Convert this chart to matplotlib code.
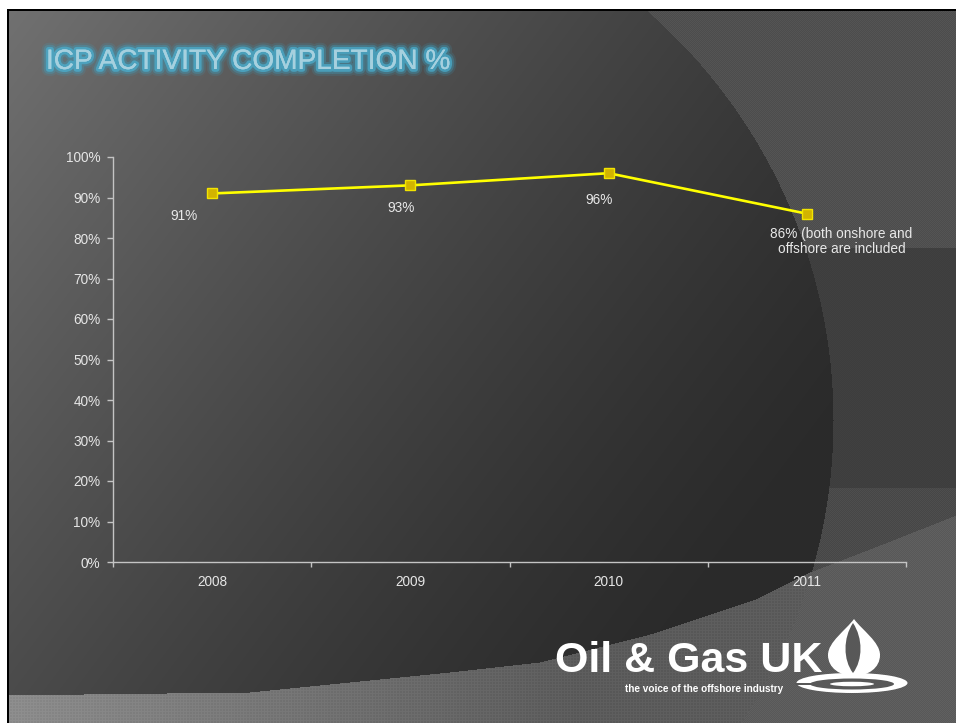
import numpy as np
import matplotlib
matplotlib.use('Agg')
import matplotlib.pyplot as plt
from matplotlib import patheffects as pe
from matplotlib.patches import Ellipse, PathPatch, Rectangle
from matplotlib.path import Path

# ---------------- data ----------------
years = ['2008', '2009', '2010', '2011']
completion = [0.91, 0.93, 0.96, 0.86]
point_labels = ['91%', '93%', '96%', '86% (both onshore and\noffshore are included']
ytick_values = [0.0, 0.1, 0.2, 0.3, 0.4, 0.5, 0.6, 0.7, 0.8, 0.9, 1.0]
ytick_labels = ['0%', '10%', '20%', '30%', '40%', '50%', '60%', '70%', '80%', '90%', '100%']
title_text = 'ICP ACTIVITY COMPLETION %'
logo_text = 'Oil & Gas UK'
tagline_text = 'the voice of the offshore industry'

W, H = 956, 723
fig = plt.figure(figsize=(W / 100, H / 100), dpi=100)

# ---------------- slide background ----------------
yy, xx = np.mgrid[0:H, 0:W].astype(float)
img = np.full((H, W), 255.0)
tex1 = np.where(((xx.astype(int) + yy.astype(int)) % 2) == 0, 4.0, -4.0)
tex2 = np.where((xx.astype(int) % 3 == 0) | (yy.astype(int) % 3 == 0), 4.0, -3.0)

inside = (xx - 290) ** 2 + (yy - 420) ** 2 <= 543 ** 2
band_y = np.interp(xx, [0, 250, 450, 540, 650, 753, 810, 880, 956],
                   [695, 692, 672, 662, 634, 600, 572, 545, 515])
below = yy >= band_y

t = np.clip((0.8 * xx + 0.6 * yy) / 940.0, 0, 1)
grad = 42 + 72 * (1 - t) ** 1.3

v = np.where(inside, grad, 0.0)
out = ~inside
v = np.where(out & (yy < 248), 80 + tex1, v)
v = np.where(out & (yy >= 248) & (yy < 488), 63 + 0.4 * tex1, v)
v = np.where(out & (yy >= 488), 74 + tex1, v)
v = np.where(out & below, 92 + tex1, v)
bandv = np.clip(140 - 60 * (xx / 700.0), 90, 140)
v = np.where(inside & below, bandv + tex2, v)

slide = (xx >= 7) & (yy >= 9)
img = np.where(slide, v, img)
border = slide & ((xx < 9) | (yy < 11))
img = np.where(border, 0.0, img)
rgb = np.repeat((np.clip(img, 0, 255) / 255.0)[:, :, None], 3, axis=2)

bg = fig.add_axes([0, 0, 1, 1], zorder=0)
bg.imshow(rgb, extent=(0, W, H, 0), interpolation='nearest', aspect='auto')
bg.set_xlim(0, W)
bg.set_ylim(H, 0)
bg.axis('off')

# ---------------- chart ----------------
ax = fig.add_axes([113 / W, 1 - 562 / H, 793 / W, 405 / H], zorder=2)
ax.patch.set_alpha(0)
x = np.arange(len(years))
ax.plot(x, completion, color='#ffff00', lw=1.9, marker='s', markersize=7.2,
        markerfacecolor='#d2b400', markeredgecolor='#f2e400', markeredgewidth=1.0,
        zorder=3, solid_joinstyle='miter')

offsets = [(-20, -16.5), (-6.5, -16.5), (-7, -19), (25, -20)]
for xi, yi, lab, off in zip(x, completion, point_labels, offsets):
    ax.annotate(lab, (xi, yi), xytext=off, textcoords='offset points',
                ha='center', va='center', multialignment='center',
                color='#e8e8e8', fontsize=9.8, family=['Liberation Sans', 'DejaVu Sans'],
                linespacing=1.05)

ax.set_xlim(-0.5, len(years) - 0.5)
ax.set_ylim(0, 1)
ax.set_yticks(ytick_values)
ax.set_yticklabels(ytick_labels)
ax.set_xticks(np.arange(-0.5, len(years)), labels=[''] * (len(years) + 1))
ax.set_xticks(x, labels=years, minor=True)
for s in ['top', 'right']:
    ax.spines[s].set_visible(False)
for s in ['left', 'bottom']:
    ax.spines[s].set_color('#c4c4c4')
    ax.spines[s].set_linewidth(1.0)
ax.tick_params(axis='y', colors='#c4c4c4', labelcolor='#e6e6e6', labelsize=9.8,
               length=4, width=1.0, pad=5)
ax.tick_params(axis='x', which='major', colors='#c4c4c4', length=3.5, width=1.0)
ax.tick_params(axis='x', which='minor', length=0, labelcolor='#e6e6e6',
               labelsize=9.8, pad=9)
for lab in ax.get_yticklabels() + ax.get_xticklabels(minor=True):
    lab.set_family(['Liberation Sans', 'DejaVu Sans'])

# ---------------- overlay: title & logo ----------------
ov = fig.add_axes([0, 0, 1, 1], zorder=3)
ov.patch.set_alpha(0)
ov.set_xlim(0, W)
ov.set_ylim(H, 0)
ov.axis('off')

ov.text(46, 69, title_text, ha='left', va='baseline', fontsize=20.2,
        family=['Liberation Sans', 'DejaVu Sans'],
        color='#a6d0de',
        path_effects=[pe.withStroke(linewidth=10, foreground='#3aa8cc', alpha=0.15),
                      pe.withStroke(linewidth=7, foreground='#3aa8cc', alpha=0.3),
                      pe.withStroke(linewidth=4, foreground='#4ab4d6', alpha=0.65),
                      pe.Normal()])

ov.text(555, 672, logo_text, ha='left', va='baseline', fontsize=31, fontweight='bold',
        family=['Liberation Sans', 'DejaVu Sans'], color='white')
ov.text(625, 692, tagline_text, ha='left', va='baseline', fontsize=7.2, fontweight='bold',
        family=['Liberation Sans', 'DejaVu Sans'], color='white')

dark = '#585858'
ov.add_patch(Ellipse((852, 683), 111, 20, facecolor='white', edgecolor='none'))
ov.add_patch(Ellipse((852, 684), 84, 11, facecolor=dark, edgecolor='none'))
ov.add_patch(Ellipse((852, 684), 44, 4.5, facecolor='white', edgecolor='none'))
ov.add_patch(Rectangle((795, 682.6), 18, 2.8, facecolor=dark, edgecolor='none'))

drop_verts = [(854, 619),
              (862, 630), (880, 642), (880, 655),
              (880, 668), (868, 676), (854, 676),
              (840, 676), (828, 668), (828, 655),
              (828, 642), (846, 630), (854, 619)]
drop_codes = [Path.MOVETO] + [Path.CURVE4] * 12
ov.add_patch(PathPatch(Path(drop_verts, drop_codes), facecolor='white', edgecolor='none'))
lens_verts = [(853, 623),
              (863, 638), (863, 660), (853, 673),
              (843, 660), (843, 638), (853, 623)]
lens_codes = [Path.MOVETO] + [Path.CURVE4] * 6
ov.add_patch(PathPatch(Path(lens_verts, lens_codes), facecolor=dark, edgecolor='none'))

fig.savefig('out.png', dpi=100)
